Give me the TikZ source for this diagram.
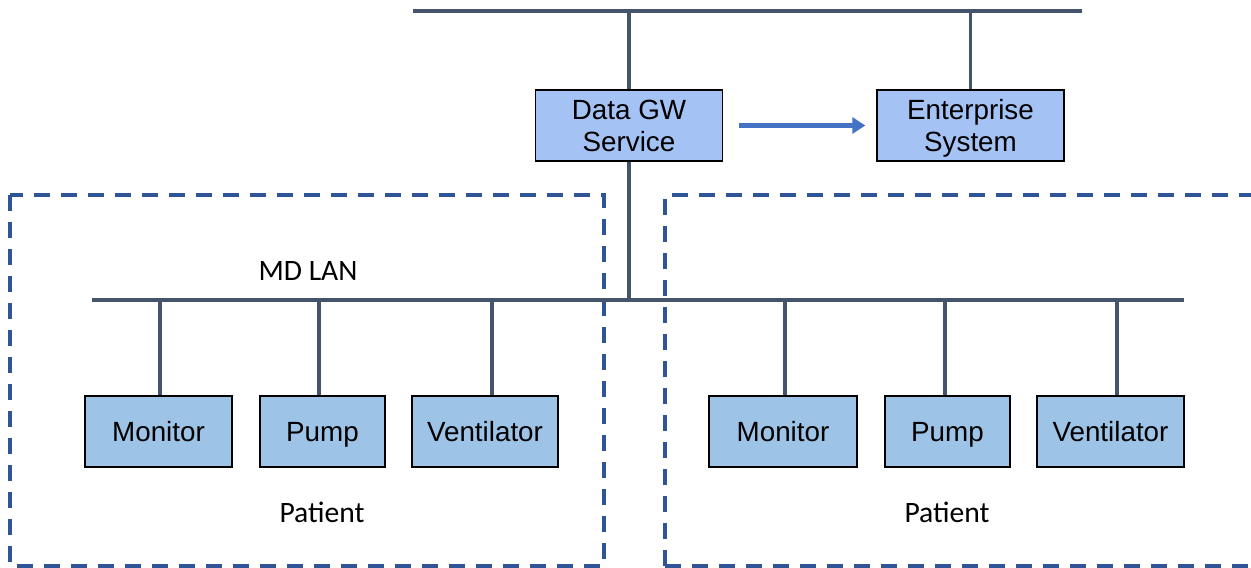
\documentclass[tikz,border=0pt]{standalone}
\usepackage{fontspec}
\setmainfont{Liberation Sans}
\newfontfamily\calibri{Carlito}
\usetikzlibrary{arrows.meta}
\definecolor{ardoise}{RGB}{68,84,106}
\definecolor{bleuhaut}{RGB}{164,194,244}
\definecolor{bleuapp}{RGB}{157,195,230}
\definecolor{bleuzone}{RGB}{47,85,151}
\definecolor{bleufleche}{RGB}{68,114,196}
\newcommand\etai{\rule[-2.5pt]{0pt}{15pt}}
\begin{document}
\begin{tikzpicture}[x=0.5pt, y=-0.5pt]
	\tikzset{boite/.style={rectangle, draw=black, line width=0.7pt, inner sep=0pt, minimum height=35.5pt, font=\fontsize{13.9}{16}\selectfont, align=center},
		bus/.style={draw=ardoise, line width=2pt},
		lien/.style={draw=ardoise, line width=1.6pt},
		zone/.style={draw=bleuzone, line width=1.8pt, dash pattern=on 8pt off 5.5pt},
		etiq/.style={font=\calibri\fontsize{14.8}{17}\selectfont},
		fleche/.style={-{Triangle[length=6.5pt, width=8pt]}, draw=bleufleche, line width=2.4pt}};

	\useasboundingbox (0,0) rectangle (1251,567);
	\clip (0,0) rectangle (1251,567);

	% zones patient
	\draw[zone] (10,195) rectangle (604,566);
	\draw[zone] (665,566) -- (665,195) -- (1270,195);
	\draw[zone] (665,566) -- (1270,566);

	% bus
	\coordinate (hautG) at (413,11);
	\coordinate (hautD) at (1082,11);
	\coordinate (basG) at (92,300);
	\coordinate (basD) at (1184,300);
	\draw[bus] (hautG) -- (hautD);
	\draw[bus] (basG) -- (basD);

	\node[boite, fill=bleuhaut, minimum width=93.5pt] (gw) at (629,125.5) {Data GW\etai\\Service\etai};
	\node[boite, fill=bleuhaut, minimum width=93.5pt] (ent) at (970.5,125.5) {Enterprise\etai\\System\etai};

	\node[boite, fill=bleuapp, minimum width=73.5pt] (mon1) at ( 158.5,431.5) {Monitor\etai};
	\node[boite, fill=bleuapp, minimum width=62.5pt] (pmp1) at ( 322.5,431.5) {Pump\etai};
	\node[boite, fill=bleuapp, minimum width=73pt] (ven1) at ( 485,431.5) {Ventilator\etai};
	\node[boite, fill=bleuapp, minimum width=74pt] (mon2) at ( 783,431.5) {Monitor\etai};
	\node[boite, fill=bleuapp, minimum width=62.5pt] (pmp2) at ( 947.5,431.5) {Pump\etai};
	\node[boite, fill=bleuapp, minimum width=73.5pt] (ven2) at (1110.5,431.5) {Ventilator\etai};

	\node[etiq] (lan) at (308,271) {MD LAN};
	\node[etiq] (pat1) at (322,512) {Patient};
	\node[etiq] (pat2) at (947,512) {Patient};

	\coordinate (p1) at ( 160,300);
	\coordinate (p2) at ( 319,300);
	\coordinate (p3) at ( 492,300);
	\coordinate (p4) at ( 785,300);
	\coordinate (p5) at ( 945,300);
	\coordinate (p6) at (1117,300);

	\draw[lien] (gw.north) -- (gw.north |- hautG);
	\draw[lien] (gw.south) -- (gw.south |- basG);
	\draw[lien] (ent.north) -- (ent.north |- hautG);
	\draw[lien] (p1) -- (p1 |- mon1.north);
	\draw[lien] (p2) -- (p2 |- pmp1.north);
	\draw[lien] (p3) -- (p3 |- ven1.north);
	\draw[lien] (p4) -- (p4 |- mon2.north);
	\draw[lien] (p5) -- (p5 |- pmp2.north);
	\draw[lien] (p6) -- (p6 |- ven2.north);

	\draw[fleche, shorten <=8pt, shorten >=5.5pt] (gw) -- (ent);
\end{tikzpicture}
\end{document}
